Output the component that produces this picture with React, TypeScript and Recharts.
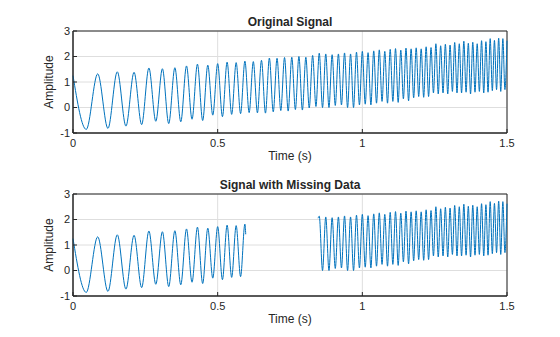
import React from "react";
import {
  CartesianGrid,
  Line,
  LineChart,
  ReferenceArea,
  XAxis,
  YAxis,
} from "recharts";

// crests and dips of the chirp (time in s, amplitude)
const peakTime = [
  0, 0.0854, 0.1531, 0.211, 0.2623, 0.309, 0.3521, 0.3923, 0.4301, 0.4659,
  0.5, 0.5326, 0.5639, 0.5941, 0.6232, 0.6514, 0.6787, 0.7052, 0.7311, 0.7562,
  0.7808, 0.8048, 0.8282, 0.8511, 0.8736, 0.8956, 0.9173, 0.9385, 0.9593, 0.9798,
  1.0, 1.0198, 1.0394, 1.0586, 1.0776, 1.0963, 1.1147, 1.1329, 1.1509, 1.1686,
  1.1861, 1.2034, 1.2205, 1.2374, 1.2542, 1.2707, 1.287, 1.3032, 1.3192, 1.3351,
  1.3508, 1.3663, 1.3817, 1.397, 1.4121, 1.4271, 1.4419, 1.4566, 1.4712, 1.4857,
  1.5,
];
const peakAmp = [
  1.25, 1.32, 1.4, 1.38, 1.55, 1.52, 1.56, 1.63, 1.7, 1.66,
  1.72, 1.78, 1.76, 1.82, 1.8, 1.85, 1.94, 1.93, 1.96, 1.97,
  2.0, 1.97, 2.04, 2.13, 2.1, 2.07, 2.1, 2.14, 2.1, 2.17,
  2.2, 2.15, 2.22, 2.26, 2.2, 2.28, 2.31, 2.25, 2.33, 2.3,
  2.34, 2.3, 2.38, 2.35, 2.5, 2.42, 2.48, 2.45, 2.55, 2.5,
  2.6, 2.52, 2.56, 2.5, 2.62, 2.58, 2.7, 2.63, 2.72, 2.7,
  2.62,
];
const troughTime = [
  0.0458, 0.1208, 0.183, 0.2373, 0.2862, 0.3309, 0.3725, 0.4114, 0.4482, 0.4831,
  0.5165, 0.5484, 0.5792, 0.6088, 0.6374, 0.6652, 0.6921, 0.7182, 0.7437, 0.7686,
  0.7928, 0.8165, 0.8397, 0.8624, 0.8847, 0.9065, 0.9279, 0.949, 0.9696, 0.99,
  1.01, 1.0296, 1.049, 1.0681, 1.087, 1.1055, 1.1239, 1.1419, 1.1598, 1.1774,
  1.1948, 1.212, 1.229, 1.2458, 1.2624, 1.2789, 1.2952, 1.3113, 1.3272, 1.343,
  1.3586, 1.374, 1.3894, 1.4045, 1.4196, 1.4345, 1.4493, 1.4639, 1.4784, 1.4928,
];
const troughAmp = [
  -0.86, -0.82, -0.73, -0.67, -0.54, -0.63, -0.56, -0.46, -0.51, -0.3,
  -0.36, -0.27, -0.24, -0.2, -0.21, -0.22, -0.17, -0.12, -0.14, -0.08,
  -0.1, -0.02, 0.04, 0.0, 0.0, 0.08, 0.1, 0.0, 0.0, 0.1,
  0.13, 0.1, 0.17, 0.24, 0.17, 0.24, 0.2, 0.34, 0.26, 0.38,
  0.43, 0.4, 0.43, 0.57, 0.53, 0.57, 0.53, 0.63, 0.57, 0.57,
  0.6, 0.53, 0.6, 0.63, 0.57, 0.6, 0.66, 0.7, 0.63, 0.7,
];

// edges of the dropout in the second plot
const gapStart = { t: 0.597, amp: 1.42 };
const gapEnd = { t: 0.847, amp: 2.05 };

const xTicks = [0, 0.5, 1, 1.5];
const yTicks = [-1, 0, 1, 2, 3];

type Pt = { t: number; amp: number | null };

const originalData: Pt[] = [
  ...peakTime.map((t, i) => ({ t, amp: peakAmp[i] })),
  ...troughTime.map((t, i) => ({ t, amp: troughAmp[i] })),
].sort((a, b) => a.t - b.t);

const missingData: Pt[] = [
  ...originalData.filter((p) => p.t < gapStart.t),
  gapStart,
  { t: 0.72, amp: null },
  gapEnd,
  ...originalData.filter((p) => p.t > gapEnd.t),
];

const FONT = '"Liberation Sans", Arial, Helvetica, sans-serif';
const INK = "#262626";
const BLUE = "#0072BD";

function Panel({ data }: { data: Pt[] }) {
  return (
    <LineChart
      width={560}
      height={163}
      data={data}
      margin={{ top: 30, right: 52, bottom: 0, left: 25 }}
    >
      <CartesianGrid stroke="#dedede" />
      <XAxis
        type="number"
        dataKey="t"
        domain={[0, 1.5]}
        ticks={xTicks}
        tickFormatter={(v: number) => String(v)}
        height={30}
        tickSize={-4}
        tickMargin={10}
        stroke={INK}
        tick={{ fill: INK, fontSize: 11, fontFamily: FONT }}
        label={{
          value: "Time (s)",
          position: "insideBottom",
          offset: 3,
          fill: INK,
          fontSize: 12,
          fontFamily: FONT,
        }}
      />
      {/* inward ticks on the top edge, no labels */}
      <XAxis
        xAxisId="top"
        orientation="top"
        type="number"
        dataKey="t"
        domain={[0, 1.5]}
        ticks={xTicks}
        height={1}
        tickSize={-4}
        axisLine={false}
        tick={false}
        stroke={INK}
      />
      <YAxis
        type="number"
        domain={[-1, 3]}
        ticks={yTicks}
        width={48}
        tickSize={-4}
        tickMargin={7}
        stroke={INK}
        tick={{ fill: INK, fontSize: 11, fontFamily: FONT }}
        label={{
          value: "Amplitude",
          angle: -90,
          position: "center",
          fill: INK,
          fontSize: 12,
          fontFamily: FONT,
        }}
      />
      <YAxis
        yAxisId="right"
        orientation="right"
        type="number"
        domain={[-1, 3]}
        ticks={yTicks}
        width={1}
        tickSize={-4}
        axisLine={false}
        tick={false}
        stroke={INK}
      />
      <ReferenceArea x1={0} x2={1.5} y1={-1} y2={3} fill="none" stroke={INK} strokeWidth={1} />
      <Line
        type="monotone"
        dataKey="amp"
        stroke={BLUE}
        strokeWidth={1}
        dot={false}
        connectNulls={false}
        isAnimationActive={false}
      />
    </LineChart>
  );
}

export default function App() {
  return (
    <div
      style={{
        position: "absolute",
        left: 0,
        top: 0,
        width: 560,
        height: 337,
        background: "#fff",
        fontFamily: FONT,
      }}
    >
      <Panel data={originalData} />
      <Panel data={missingData} />
      <svg
        width={560}
        height={337}
        style={{ position: "absolute", left: 0, top: 0, pointerEvents: "none" }}
      >
        <text x={290} y={26} textAnchor="middle" fontSize={12} fontWeight="bold" fill={INK} fontFamily={FONT}>
          Original Signal
        </text>
        <text x={290} y={189} textAnchor="middle" fontSize={12} fontWeight="bold" fill={INK} fontFamily={FONT}>
          Signal with Missing Data
        </text>
      </svg>
    </div>
  );
}
